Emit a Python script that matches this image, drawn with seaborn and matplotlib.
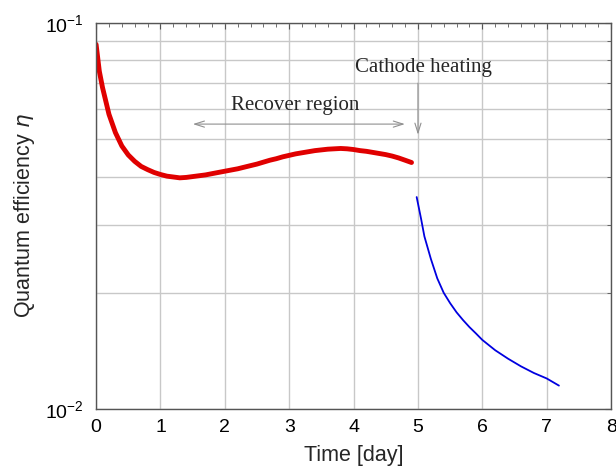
import numpy as np
import pandas as pd
import matplotlib
matplotlib.use("Agg")
import matplotlib.pyplot as plt
from matplotlib.ticker import MultipleLocator, LogLocator, NullFormatter
import seaborn as sns

# ------------------------------------------------------------
# Daten
# ------------------------------------------------------------
t_recover = [0.0, 0.05, 0.1, 0.2, 0.3, 0.4, 0.5, 0.6, 0.7, 0.8, 0.9,
             1.0, 1.1, 1.2, 1.3, 1.4, 1.5, 1.6, 1.7, 1.8, 1.9,
             2.0, 2.1, 2.2, 2.3, 2.4, 2.5, 2.6, 2.7, 2.8, 2.9,
             3.0, 3.1, 3.2, 3.3, 3.4, 3.5, 3.6, 3.7, 3.8, 3.9,
             4.0, 4.1, 4.2, 4.3, 4.4, 4.5, 4.6, 4.7, 4.8, 4.9]
qe_recover = [0.088, 0.075, 0.068, 0.058, 0.052, 0.048, 0.0455, 0.0438, 0.0425, 0.0417, 0.0410,
              0.0405, 0.0401, 0.0399, 0.0397, 0.0398, 0.0400, 0.0402, 0.0404, 0.0407, 0.0410,
              0.0413, 0.0416, 0.0419, 0.0423, 0.0427, 0.0431, 0.0436, 0.0441, 0.0445, 0.0450,
              0.0454, 0.0458, 0.0461, 0.0464, 0.0467, 0.0469, 0.0471, 0.0472, 0.0473, 0.0472,
              0.0470, 0.0467, 0.0465, 0.0462, 0.0459, 0.0456, 0.0452, 0.0447, 0.0441, 0.0435]

t_heat = [4.98, 5.05, 5.1, 5.2, 5.3, 5.4, 5.5, 5.6, 5.7, 5.8, 5.9,
          6.0, 6.2, 6.4, 6.6, 6.8, 7.0, 7.19]
qe_heat = [0.0354, 0.0310, 0.0280, 0.0245, 0.0218, 0.0200, 0.0188, 0.0178, 0.0170, 0.0163, 0.0157,
           0.0151, 0.0142, 0.0135, 0.0129, 0.0124, 0.0120, 0.0115]

df_r = pd.DataFrame({'t': t_recover, 'qe': qe_recover})
df_h = pd.DataFrame({'t': t_heat, 'qe': qe_heat})

# ------------------------------------------------------------
# Plot
# ------------------------------------------------------------
sns.set_style("white")
plt.rcParams['font.family'] = ['Liberation Sans', 'DejaVu Sans']
plt.rcParams['mathtext.default'] = 'regular'

fig = plt.figure(figsize=(6.16, 4.68), dpi=100)
ax = fig.add_axes([0.156, 0.126, 0.836, 0.825])

sns.lineplot(data=df_r, x='t', y='qe', ax=ax, color='#e00000', linewidth=3.5,
             estimator=None, sort=False)
sns.lineplot(data=df_h, x='t', y='qe', ax=ax, color='#0000e0', linewidth=1.3,
             estimator=None, sort=False)

ax.set_yscale('log')
ax.set_xlim(0, 8)
ax.set_ylim(1e-2, 1e-1)

ax.xaxis.set_major_locator(MultipleLocator(1))
ax.xaxis.set_minor_locator(MultipleLocator(0.2))
ax.yaxis.set_major_locator(LogLocator(base=10))
ax.yaxis.set_minor_locator(LogLocator(base=10, subs=np.arange(2, 10)))
ax.yaxis.set_minor_formatter(NullFormatter())

ax.grid(True, which='major', axis='x', color='#c8c8c8', linewidth=1)
ax.grid(True, which='both', axis='y', color='#c8c8c8', linewidth=1)
ax.set_axisbelow(True)

ax.tick_params(which='both', direction='in', top=True, right=True, colors='#555555',
               labelcolor='black', labelsize=14)
ax.tick_params(which='major', length=4)
ax.tick_params(which='minor', length=3)
ax.tick_params(axis='x', which='major', pad=7)
ax.tick_params(axis='y', which='major', pad=9)
for s in ax.spines.values():
    s.set_color('#555555')
    s.set_linewidth(1)

ax.set_xlabel('Time [day]', fontsize=15.5, labelpad=7)
ax.set_ylabel(r'Quantum efficiency $\it{\eta}$', fontsize=15.5, labelpad=6)

# Annotationen
ax.annotate('', xy=(1.46, 0.0547), xytext=(4.84, 0.0547),
            arrowprops=dict(arrowstyle='<->,head_length=0.7,head_width=0.22',
                            color='#909090', lw=0.8))
ax.text(3.1, 0.0612, 'Recover region', family='Liberation Serif', fontsize=15,
        ha='center', va='center')
ax.annotate('', xy=(5.0, 0.0505), xytext=(5.0, 0.071),
            arrowprops=dict(arrowstyle='->,head_length=0.7,head_width=0.22',
                            color='#909090', lw=0.8))
ax.text(5.08, 0.0765, 'Cathode heating', family='Liberation Serif', fontsize=15,
        ha='center', va='center')

fig.savefig('out.png', dpi=100)
